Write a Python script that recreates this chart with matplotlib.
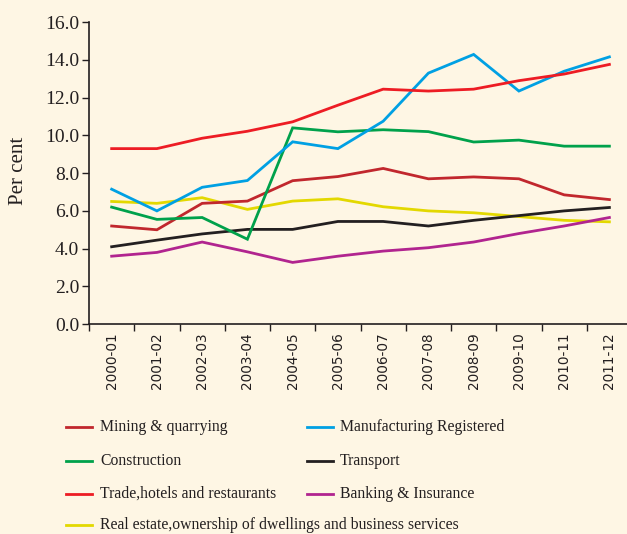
import matplotlib.pyplot as plt
from matplotlib.lines import Line2D

years = ['2000-01', '2001-02', '2002-03', '2003-04', '2004-05', '2005-06',
         '2006-07', '2007-08', '2008-09', '2009-10', '2010-11', '2011-12']

mining = [5.2, 5.0, 6.4, 6.52, 7.6, 7.82, 8.25, 7.7, 7.8, 7.7, 6.85, 6.6]
manufacturing = [7.15, 6.0, 7.25, 7.61, 9.66, 9.3, 10.75, 13.3, 14.29, 12.35, 13.4, 14.16]
construction = [6.2, 5.55, 5.65, 4.5, 10.4, 10.19, 10.3, 10.2, 9.65, 9.75, 9.43, 9.43]
transport = [4.1, 4.45, 4.78, 5.02, 5.02, 5.44, 5.44, 5.2, 5.5, 5.75, 6.0, 6.18]
trade = [9.3, 9.3, 9.85, 10.22, 10.72, 11.6, 12.45, 12.35, 12.45, 12.9, 13.25, 13.76]
banking = [3.6, 3.8, 4.35, 3.83, 3.27, 3.6, 3.87, 4.05, 4.35, 4.8, 5.2, 5.65]
real_estate = [6.5, 6.4, 6.7, 6.08, 6.52, 6.64, 6.22, 6.0, 5.9, 5.7, 5.5, 5.42]

series = [
    ('Mining & quarrying', mining, '#c1272d'),
    ('Manufacturing Registered', manufacturing, '#00a0e3'),
    ('Construction', construction, '#00a14b'),
    ('Transport', transport, '#231f20'),
    ('Trade,hotels and restaurants', trade, '#ed1c24'),
    ('Banking & Insurance', banking, '#b1248f'),
    ('Real estate,ownership of dwellings and business services', real_estate, '#e3d800'),
]

bg = '#fef6e4'
plt.rcParams['font.family'] = 'Liberation Serif'

fig = plt.figure(figsize=(6.27, 5.34), dpi=100, facecolor=bg)
ax = fig.add_axes([0.142, 0.393, 0.866, 0.5655], facecolor=bg)

x = list(range(len(years)))
# draw in an order so the front-most lines match the original
for i in [6, 3, 5, 0, 2, 1, 4]:
    name, vals, col = series[i]
    ax.plot(x, vals, color=col, lw=2.0, solid_joinstyle='miter')

ax.set_xlim(-0.5, 11.5)
ax.set_ylim(0, 16)
ax.set_yticks([0, 2, 4, 6, 8, 10, 12, 14, 16])
ax.set_yticklabels(['%.1f' % v for v in ax.get_yticks()], fontsize=14, color='#231f20')
ax.set_xticks([i - 0.5 for i in range(12)])
ax.set_xticklabels([])
ax.set_xticks(x, minor=True)
ax.set_xticklabels(years, minor=True, rotation=90, fontsize=9.8,
                   family='DejaVu Sans', color='#231f20')
ax.tick_params(axis='x', which='minor', length=0, pad=6)
ax.tick_params(axis='x', which='major', length=5, width=1, color='#231f20')
ax.tick_params(axis='y', length=5, width=1, color='#231f20', pad=2)
for s in ['top', 'right']:
    ax.spines[s].set_visible(False)
for s in ['left', 'bottom']:
    ax.spines[s].set_color('#231f20')
    ax.spines[s].set_linewidth(1.2)

fig.text(0.03, 0.68, 'Per cent', rotation=90, ha='center', va='center',
         fontsize=15, color='#231f20')

# legend laid out by hand: two columns, last entry on its own row
rows = [1 - 427 / 534, 1 - 461 / 534, 1 - 494 / 534, 1 - 525 / 534]
slots = [(0, 0), (1, 0), (0, 1), (1, 1), (0, 2), (1, 2), (0, 3)]
cols = [(66, 92, 100), (307, 333, 340)]
for (name, vals, col), (c, r) in zip(series, slots):
    x0, x1, xt = cols[c]
    y = rows[r]
    fig.add_artist(Line2D([x0 / 627, x1 / 627], [y, y], color=col, lw=2.0))
    fig.text(xt / 627, y, name, ha='left', va='center', fontsize=11.3, color='#231f20')

fig.savefig('out.png', dpi=100, facecolor=bg)
